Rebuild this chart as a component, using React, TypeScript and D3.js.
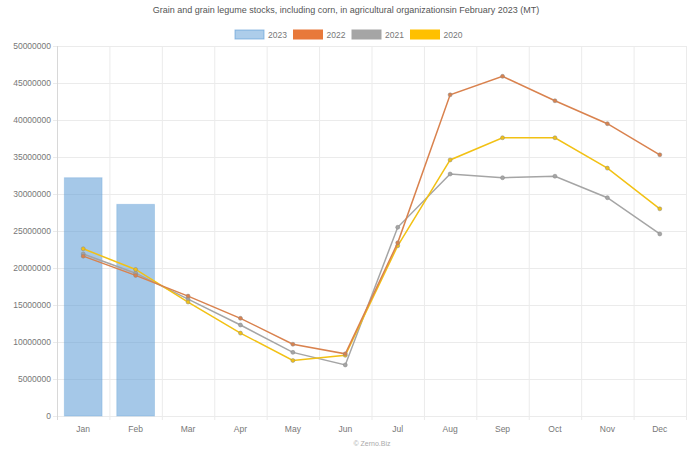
import { useEffect, useRef } from 'react';
import * as d3 from 'd3';

const months = ['Jan', 'Feb', 'Mar', 'Apr', 'May', 'Jun', 'Jul', 'Aug', 'Sep', 'Oct', 'Nov', 'Dec'];

// 2023 only has Jan and Feb (bars)
const stocks2023 = [32200000, 28600000];
const stocks2022 = [21600000, 19000000, 16200000, 13200000, 9700000, 8400000, 23400000, 43400000, 45900000, 42600000, 39500000, 35300000];
const stocks2021 = [21900000, 19300000, 15800000, 12300000, 8600000, 6900000, 25500000, 32700000, 32200000, 32400000, 29500000, 24600000];
const stocks2020 = [22600000, 19800000, 15400000, 11200000, 7500000, 8200000, 23000000, 34600000, 37600000, 37600000, 33500000, 28000000];

const yTicks = [0, 5000000, 10000000, 15000000, 20000000, 25000000, 30000000, 35000000, 40000000, 45000000, 50000000];

const legendItems = [
  { label: '2023', fill: 'rgba(91,155,213,0.5)', stroke: 'rgba(91,155,213,0.6)' },
  { label: '2022', fill: '#e8793a', stroke: '#e8793a' },
  { label: '2021', fill: '#a5a5a5', stroke: '#a5a5a5' },
  { label: '2020', fill: '#ffc000', stroke: '#ffc000' },
];

const lineSeries = [
  { data: stocks2021, color: '#a5a5a5' },
  { data: stocks2020, color: '#f2c114' },
  { data: stocks2022, color: '#d9824e' },
];

export default function App() {
  const svgRef = useRef<SVGSVGElement>(null);

  useEffect(() => {
    if (!svgRef.current) return;
    const width = 693;
    const height = 450;
    const margin = { top: 46, right: 7, bottom: 34, left: 57 };

    const svg = d3.select(svgRef.current);
    svg.selectAll('*').remove();
    svg.attr('width', width).attr('height', height)
      .style('font-family', 'Arial, "Liberation Sans", sans-serif');

    const x = d3.scaleBand<string>()
      .domain(months)
      .range([margin.left, width - margin.right]);

    const y = d3.scaleLinear()
      .domain([0, 50000000])
      .range([height - margin.bottom, margin.top]);

    // Grid
    const grid = svg.append('g');
    grid.selectAll('line.h')
      .data(yTicks)
      .join('line')
      .attr('x1', margin.left - 4)
      .attr('x2', width - margin.right)
      .attr('y1', d => y(d) + 0.5)
      .attr('y2', d => y(d) + 0.5)
      .attr('stroke', '#ebebeb');
    grid.selectAll('line.v')
      .data([...months.map(m => x(m)!), width - margin.right])
      .join('line')
      .attr('x1', d => d + 0.5)
      .attr('x2', d => d + 0.5)
      .attr('y1', margin.top)
      .attr('y2', height - margin.bottom + 4)
      .attr('stroke', (_d, i) => (i === 0 ? '#d8d8d8' : '#ebebeb'));

    // Y labels
    svg.append('g')
      .selectAll('text')
      .data(yTicks)
      .join('text')
      .attr('x', margin.left - 6)
      .attr('y', d => y(d))
      .attr('dy', '0.35em')
      .attr('text-anchor', 'end')
      .attr('fill', '#777')
      .style('font-size', '8.5px')
      .text(d => String(d));

    // X labels
    svg.append('g')
      .selectAll('text')
      .data(months)
      .join('text')
      .attr('x', d => x(d)! + x.bandwidth() / 2)
      .attr('y', height - margin.bottom + 16)
      .attr('text-anchor', 'middle')
      .attr('fill', '#777')
      .style('font-size', '8.5px')
      .text(d => d);

    // Bars 2023
    const barW = x.bandwidth() * 0.72;
    svg.append('g')
      .selectAll('rect')
      .data(stocks2023)
      .join('rect')
      .attr('x', (_d, i) => x(months[i])! + (x.bandwidth() - barW) / 2)
      .attr('y', d => y(d))
      .attr('width', barW)
      .attr('height', d => y(0) - y(d))
      .attr('fill', 'rgba(91,155,213,0.55)')
      .attr('stroke', 'rgba(91,155,213,0.3)');

    // Lines
    const line = d3.line<number>()
      .x((_d, i) => x(months[i])! + x.bandwidth() / 2)
      .y(d => y(d));

    lineSeries.forEach(s => {
      const g = svg.append('g');
      g.append('path')
        .attr('d', line(s.data))
        .attr('fill', 'none')
        .attr('stroke', s.color)
        .attr('stroke-width', 1.5);
      g.selectAll('circle')
        .data(s.data)
        .join('circle')
        .attr('cx', (_d, i) => x(months[i])! + x.bandwidth() / 2)
        .attr('cy', d => y(d))
        .attr('r', 2)
        .attr('fill', s.color)
        .attr('stroke', '#888')
        .attr('stroke-opacity', 0.5);
    });

    // Title
    svg.append('text')
      .attr('x', 346)
      .attr('y', 13)
      .attr('text-anchor', 'middle')
      .attr('fill', '#555')
      .style('font-size', '9px')
      .text('Grain and grain legume stocks, including corn, in agricultural organizationsin February 2023 (MT)');

    // Legend
    const legend = svg.append('g');
    legendItems.forEach((item, i) => {
      const lx = 235 + i * 58.5;
      legend.append('rect')
        .attr('x', lx)
        .attr('y', 30)
        .attr('width', 29)
        .attr('height', 9)
        .attr('fill', item.fill)
        .attr('stroke', item.stroke);
      legend.append('text')
        .attr('x', lx + 33)
        .attr('y', 35)
        .attr('dy', '0.35em')
        .attr('fill', '#777')
        .style('font-size', '8.5px')
        .text(item.label);
    });

    // Credit
    svg.append('text')
      .attr('x', 372)
      .attr('y', 446)
      .attr('text-anchor', 'middle')
      .attr('fill', '#aaa')
      .style('font-size', '7px')
      .text('© Zerno.Biz');
  }, []);

  return (
    <div style={{ position: 'absolute', left: 0, top: 0 }}>
      <svg ref={svgRef} />
    </div>
  );
}
